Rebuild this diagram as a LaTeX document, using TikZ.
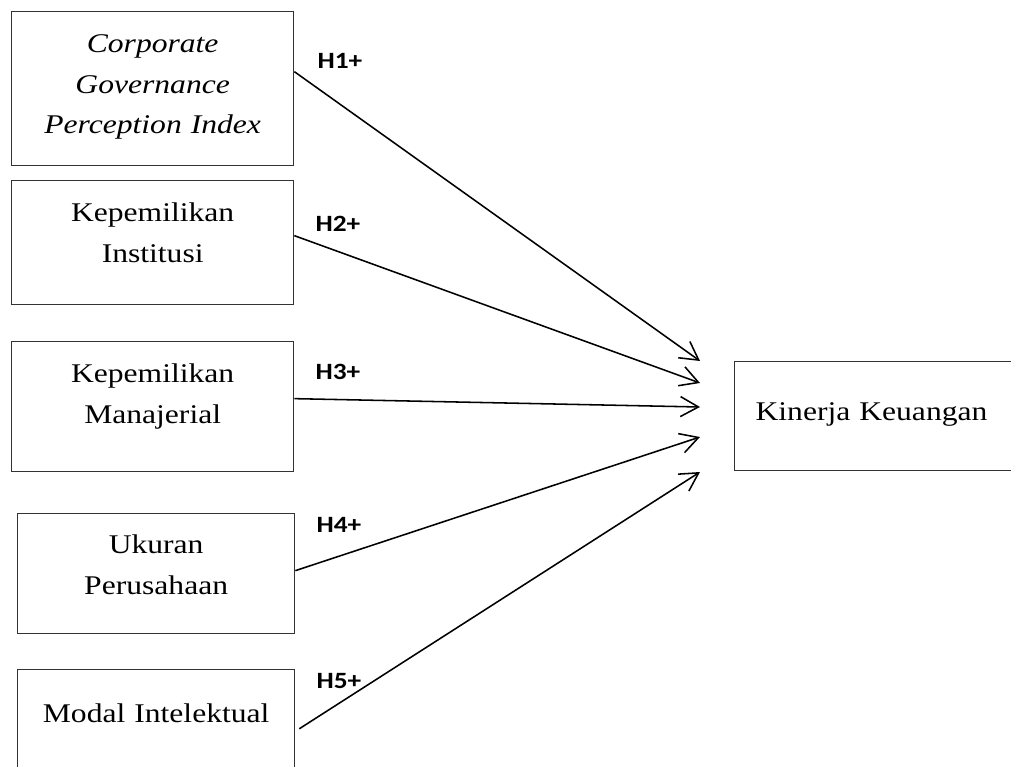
\documentclass[tikz,border=0pt]{standalone}
\usepackage{fontspec}
\setmainfont{Liberation Serif}[FakeStretch=1.17]
\newfontfamily\hypfont{Carlito}[FakeStretch=1.17]
\usetikzlibrary{arrows.meta}

\begin{document}
\begin{tikzpicture}[x=0.025cm,y=-0.025cm,
  >={Straight Barb[length=4.5mm,width=5mm]}, % open arrowheads
  varbox/.style={draw=black!80,line width=0.9pt,anchor=north west,
    inner xsep=0pt,inner ysep=0pt,align=center,
    font=\fontsize{19.2}{28.8}\selectfont},
  hyp/.style={font=\hypfont\bfseries\fontsize{16.6}{20}\selectfont}]

  \useasboundingbox (0,0) rectangle (1011,767);

  \node[varbox,text width=70.5mm,text height=10.25mm,text depth=28.25mm](cgpi) at (11,11)
    {\itshape Corporate\\ Governance\\ Perception Index};
  \node[varbox,text width=70.5mm,text height=10.25mm,text depth=20.75mm](ki) at (11,180)
    {Kepemilikan\\ Institusi};
  \node[varbox,text width=70.5mm,text height=10.25mm,text depth=22.25mm](km) at (11,341)
    {Kepemilikan\\ Manajerial};
  \node[varbox,text width=69.25mm,text height=10mm,text depth=20mm](up) at (17,513)
    {Ukuran\\ Perusahaan};
  \node[varbox,text width=69.25mm,text height=13.25mm,text depth=19.5mm](mi) at (17,669)
    {Modal Intelektual};
  \node[varbox,text width=75mm,inner xsep=5.25mm,align=left,
    text height=14.75mm,text depth=12.5mm](kk) at (734,361) {Kinerja Keuangan};

  \coordinate (e1) at (700,361);
  \coordinate (e2) at (700,383);
  \coordinate (e3) at (700,407);
  \coordinate (e4) at (700,437);
  \coordinate (e5) at (700,472);

  \draw[->,line width=1.1pt] ([yshift=4.25mm]cgpi.east) -- (e1);
  \draw[->,line width=1.1pt] ([yshift=1.75mm]ki.east) -- (e2);
  \draw[->,line width=1.1pt] ([yshift=2mm]km.east) -- (e3);
  \draw[->,line width=1.1pt] ([yshift=0.75mm]up.east) -- (e4);
  \draw[->,line width=1.1pt] ([xshift=1mm,yshift=1.6mm]mi.east) -- (e5);

  \node[hyp](h1) at (340,61) {H1+};
  \node[hyp](h2) at (338,224) {H2+};
  \node[hyp](h3) at (338,372) {H3+};
  \node[hyp](h4) at (339,525) {H4+};
  \node[hyp](h5) at (339,681) {H5+};

\end{tikzpicture}
\end{document}
